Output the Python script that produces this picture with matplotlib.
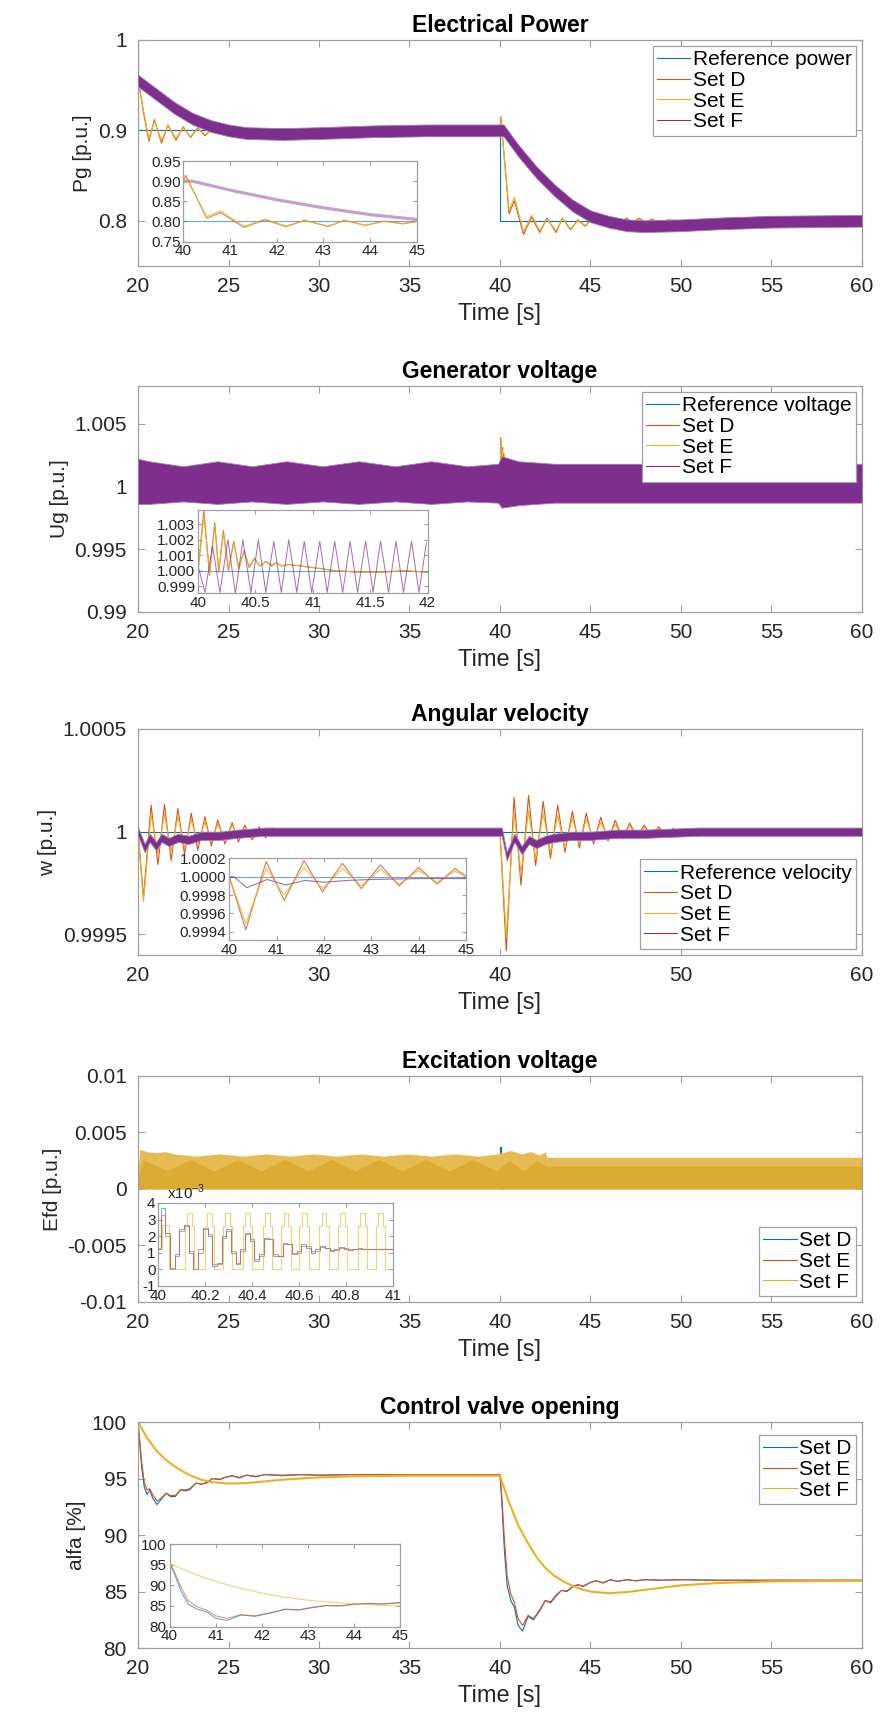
import numpy as np
import matplotlib
matplotlib.use('Agg')
import matplotlib.pyplot as plt
from matplotlib.lines import Line2D
from matplotlib.ticker import FormatStrFormatter, FuncFormatter

plt.rcParams['font.family'] = ['Liberation Sans', 'DejaVu Sans']
plt.rcParams['axes.unicode_minus'] = False
plt.rcParams['mathtext.fontset'] = 'custom'
plt.rcParams['mathtext.rm'] = 'Liberation Sans'

# ---------------- Electrical power ----------------
pg_ref_t = [20, 20, 40, 40, 60]
pg_ref = [1.0, 0.9, 0.9, 0.8, 0.8]

pg_t = [20, 20.3, 20.6, 20.9, 21.3, 21.65, 22.1, 22.5, 22.9, 23.3, 23.7, 24.1, 24.6, 25.4, 26,
        40, 40.05, 40.5, 40.8, 41.3, 41.75, 42.2, 42.6, 43.1, 43.45, 43.9, 44.3, 44.7, 45.1,
        45.6, 46.0, 46.5, 47.0, 47.3, 47.7, 48.05, 48.4, 48.8, 49.3, 50, 60]
pg_d = [0.958, 0.92, 0.888, 0.912, 0.886, 0.906, 0.889, 0.904, 0.892, 0.903, 0.894, 0.902, 0.897, 0.901, 0.9,
        0.9, 0.915, 0.808, 0.822, 0.785, 0.804, 0.787, 0.803, 0.787, 0.803, 0.79, 0.801, 0.794, 0.802,
        0.797, 0.802, 0.797, 0.803, 0.798, 0.803, 0.798, 0.802, 0.798, 0.801, 0.8, 0.8]
pg_e = [0.955, 0.922, 0.891, 0.91, 0.889, 0.905, 0.891, 0.903, 0.893, 0.902, 0.895, 0.901, 0.898, 0.9, 0.9,
        0.9, 0.912, 0.812, 0.826, 0.788, 0.806, 0.789, 0.802, 0.789, 0.802, 0.791, 0.8, 0.795, 0.801,
        0.797, 0.801, 0.798, 0.802, 0.798, 0.802, 0.798, 0.801, 0.799, 0.8, 0.8, 0.8]
# set F oscillates fast: centre line and ripple amplitude
pg_f_t = [20, 21, 22, 23, 24, 25, 26, 28, 30, 33, 36, 40, 40.2, 41, 42, 43, 44, 45, 46, 47, 48, 50, 52, 55, 60]
pg_f = [0.955, 0.94, 0.925, 0.913, 0.905, 0.9, 0.897, 0.896, 0.897, 0.899, 0.9, 0.9, 0.9, 0.878, 0.854,
        0.834, 0.817, 0.805, 0.799, 0.795, 0.794, 0.795, 0.797, 0.799, 0.8]
pg_f_amp = 0.0065

# ---------------- Generator voltage ----------------
ug_t = [20, 20.05, 20.15, 20.3, 40, 40.05, 40.1, 40.145, 40.18, 40.22, 40.265, 40.31, 40.355, 40.4, 40.445,
        40.49, 40.54, 40.59, 40.64, 40.68, 40.73, 40.78, 40.9, 41.0, 41.2, 41.4, 41.6, 41.8, 42.0, 60]
ug_d = [1.002, 0.9995, 1.0005, 1.0, 1.0, 1.0039, 0.9997, 1.0031, 0.9999, 1.0026, 1.0, 1.0019, 1.0001, 1.0013, 1.0002,
        1.0008, 1.0003, 1.0006, 1.0003, 1.0005, 1.0003, 1.0004, 1.0003, 1.0002, 1.0, 0.9999, 0.9999, 1.0, 0.9999, 1.0]
ug_e = [1.0018, 0.9996, 1.0004, 1.0, 1.0, 1.0035, 0.9998, 1.0029, 1.0, 1.0024, 1.0001, 1.0018, 1.0002, 1.0012, 1.0003,
        1.0008, 1.0003, 1.0006, 1.0004, 1.0005, 1.0003, 1.0004, 1.0003, 1.0002, 1.0, 0.9999, 0.9999, 1.0, 0.9999, 1.0]
# set F envelope over the whole run
ug_f_t = [20, 20.6, 22.5, 24.4, 26.3, 28.2, 30.2, 32.2, 34.2, 36.2, 38.2, 39.9, 40.1, 41, 42, 43, 45, 50, 55, 60]
ug_f_hi = [1.0022, 1.0020, 1.0016, 1.0020, 1.0016, 1.0020, 1.0016, 1.0020, 1.0016, 1.0020, 1.0016, 1.0018,
           1.0024, 1.0020, 1.0019, 1.0018, 1.0018, 1.0018, 1.0018, 1.0018]
ug_f_lo = [0.9986, 0.9986, 0.9988, 0.9986, 0.9988, 0.9986, 0.9988, 0.9986, 0.9988, 0.9986, 0.9988, 0.9987,
           0.9983, 0.9985, 0.9986, 0.9987, 0.9987, 0.9987, 0.9987, 0.9987]
# set F peaks and troughs between 40 and 42 s
ug_f_zoom_t = [40.0, 40.06, 40.125, 40.19, 40.26, 40.325, 40.39, 40.46, 40.525, 40.59, 40.66, 40.725, 40.79,
               40.86, 40.925, 40.99, 41.06, 41.125, 41.19, 41.26, 41.325, 41.39, 41.46, 41.525, 41.59, 41.66,
               41.725, 41.79, 41.86, 41.925, 41.99]
ug_f_zoom = [1.0003, 0.9986, 1.0016, 0.9986, 1.0020, 0.9985, 1.0020, 0.9986, 1.0020, 0.9986, 1.0019, 0.9986,
             1.0020, 0.9986, 1.0019, 0.9986, 1.0019, 0.9986, 1.0019, 0.9986, 1.0019, 0.9986, 1.0019, 0.9986,
             1.0019, 0.9986, 1.0019, 0.9986, 1.0019, 0.9986, 1.0018]

# ---------------- Angular velocity ----------------
w_t = [20.0, 20.3, 20.72, 21.1, 21.46, 21.83, 22.2, 22.57, 22.94, 23.3, 23.7, 24.05, 24.4, 24.8, 25.2, 25.55,
       25.9, 26.3, 26.7, 27.05, 27.4, 27.8, 28.1, 28.5, 28.9, 29.3, 29.7, 30.5, 40.0,
       40.35, 40.78, 41.16, 41.58, 41.97, 42.39, 42.79, 43.19, 43.59, 44.0, 44.39, 44.77, 45.17, 45.57, 45.97,
       46.37, 46.77, 47.17, 47.57, 47.97, 48.37, 48.77, 49.17, 49.57, 49.97, 50.37, 51.0, 60]
w_d = [1.0, 0.99968, 1.00013, 0.99984, 1.000133, 0.99986, 1.000114, 0.99989, 1.00009, 0.99991, 1.000073, 0.99993,
       1.000057, 0.99994, 1.000044, 0.99995, 1.000032, 0.99996, 1.000024, 0.99997, 1.000018, 0.99998, 1.000012,
       0.99999, 1.000008, 0.999993, 1.000005, 1.0, 1.0,
       0.99942, 1.000167, 0.99974, 1.000176, 0.999835, 1.000147, 0.99987, 1.00013, 0.9999, 1.0001, 0.99992,
       1.00009, 0.99994, 1.00007, 0.999955, 1.000055, 0.999965, 1.000042, 0.999973, 1.000032, 0.99998, 1.000024,
       0.999986, 1.000016, 0.99999, 1.00001, 1.0, 1.0]
w_e = [1.0, 0.99966, 1.000085, 0.99989, 1.000087, 0.9999, 1.000075, 0.99992, 1.00006, 0.99994, 1.000048, 0.99995,
       1.000037, 0.99996, 1.000029, 0.99997, 1.000021, 0.99997, 1.000016, 0.99998, 1.000012, 0.99999, 1.000008,
       0.99999, 1.000005, 0.999995, 1.000003, 1.0, 1.0,
       0.99949, 1.00009, 0.9998, 1.0001, 0.99987, 1.00009, 0.9999, 1.00008, 0.99992, 1.000068, 0.99994, 1.00006,
       0.99996, 1.000045, 0.99997, 1.000035, 0.999977, 1.000027, 0.999982, 1.00002, 0.999987, 1.000015, 0.99999,
       1.00001, 0.999994, 1.000006, 1.0, 1.0]
w_f_t = [20, 20.37, 20.64, 21.0, 21.3, 21.7, 22.2, 22.8, 23.5, 24.5, 25.5, 27, 40, 40.1, 40.37, 40.8, 41.2, 41.6,
         42.0, 42.5, 43.0, 44.0, 45.0, 46.5, 48, 51, 60]
w_f = [1.0, 0.99992, 0.99997, 0.99993, 0.99997, 0.99995, 0.99997, 0.99996, 0.99998, 0.99998, 0.99999, 1.0, 1.0,
       1.0, 0.99988, 0.99997, 0.99991, 0.99996, 0.99994, 0.99996, 0.99997, 0.99998, 0.99998, 0.99999, 0.99999,
       1.0, 1.0]
w_f_amp = 0.00002

# ---------------- Excitation voltage (values x1e-3) ----------------
efd_t = [20, 40.0, 40.01, 40.03, 40.05, 40.07, 40.09, 40.11, 40.13, 40.15, 40.17, 40.19, 40.21, 40.23, 40.25,
         40.27, 40.29, 40.31, 40.33, 40.35, 40.37, 40.39, 40.41, 40.43, 40.45, 40.47, 40.49, 40.51, 40.53,
         40.55, 40.57, 40.59, 40.61, 40.63, 40.65, 40.67, 40.69, 40.71, 40.73, 40.75, 40.77, 40.79, 40.81,
         40.83, 40.85, 40.87, 40.89, 40.91, 40.93, 40.95, 40.97, 40.99, 41.0, 60]
efd_d = [1.2, 1.2, 3.7, 2.2, 0.0, 0.9, 2.4, 2.7, 1.0, 0.0, 1.2, 2.5, 2.0, 0.2, 0.4, 2.0, 2.4, 1.0, 0.3, 1.2,
         2.2, 1.7, 0.5, 0.9, 1.9, 1.8, 0.8, 0.8, 1.6, 1.5, 0.9, 1.1, 1.5, 1.3, 1.0, 1.2, 1.4, 1.3, 1.1, 1.2,
         1.35, 1.25, 1.15, 1.2, 1.3, 1.25, 1.2, 1.2, 1.25, 1.25, 1.2, 1.2, 1.2, 1.2]
efd_e = [1.2, 1.2, 3.3, 2.0, 0.1, 0.8, 2.3, 2.6, 1.1, 0.0, 1.0, 2.4, 2.1, 0.3, 0.3, 1.9, 2.3, 1.1, 0.4, 1.1,
         2.1, 1.8, 0.6, 0.8, 1.8, 1.8, 0.9, 0.8, 1.5, 1.5, 1.0, 1.0, 1.4, 1.4, 1.1, 1.1, 1.35, 1.3, 1.15, 1.15,
         1.3, 1.3, 1.2, 1.2, 1.25, 1.25, 1.2, 1.2, 1.2, 1.25, 1.2, 1.2, 1.2, 1.2]
efd_f_t = [40.0, 40.015, 40.045,
           40.113, 40.123, 40.143, 40.153,
           40.198, 40.208, 40.228, 40.238,
           40.276, 40.286, 40.306, 40.316,
           40.361, 40.371, 40.391, 40.401,
           40.446, 40.456, 40.476, 40.486,
           40.524, 40.534, 40.554, 40.564,
           40.602, 40.612, 40.632, 40.642,
           40.687, 40.697, 40.717, 40.727,
           40.765, 40.775, 40.795, 40.805,
           40.85, 40.86, 40.88, 40.89,
           40.928, 40.938, 40.958, 40.968, 41.0]
efd_f = [1.3, 2.7, 0.0,
         2.6, 3.4, 2.6, 0.0,
         2.6, 3.4, 2.6, 0.0,
         2.6, 3.4, 2.6, 0.0,
         2.6, 3.4, 2.6, 0.0,
         2.6, 3.4, 2.6, 0.0,
         2.6, 3.4, 2.6, 0.0,
         2.6, 3.4, 2.6, 0.0,
         2.6, 3.4, 2.6, 0.0,
         2.6, 3.4, 2.6, 0.0,
         2.6, 3.4, 2.6, 0.0,
         2.6, 3.4, 2.6, 0.0, 0.0]
# set F band on the full time axis (p.u.)
efd_hi_t = [20, 20.1, 20.5, 21, 21.5, 22, 23.2, 24.5, 25.8, 27.1, 28.4, 29.7, 31, 32.3, 33.6, 34.9, 36.2,
            37.5, 38.8, 39.9, 40.6, 41.2, 41.7, 42.2, 42.5, 42.6, 60]
efd_hi = [0.0015, 0.0035, 0.0033, 0.0032, 0.0033, 0.0031, 0.0029, 0.0031, 0.0029, 0.0031, 0.0029, 0.0031,
          0.0029, 0.0031, 0.0029, 0.0031, 0.0029, 0.0031, 0.0029, 0.0031, 0.0034, 0.0031, 0.0033, 0.003,
          0.0033, 0.0028, 0.0028]
efd_mid_t = [20, 20.3, 21.6, 22.9, 24.2, 25.5, 26.8, 28.1, 29.4, 30.7, 32.0, 33.3, 34.6, 35.9, 37.2, 38.5,
             39.8, 40.5, 41.3, 42.0, 42.6, 60]
efd_mid = [0.0012, 0.0026, 0.0016, 0.0026, 0.0016, 0.0026, 0.0016, 0.0026, 0.0016, 0.0026, 0.0016, 0.0026,
           0.0016, 0.0026, 0.0016, 0.0026, 0.0016, 0.0025, 0.0016, 0.0025, 0.002, 0.002]

# ---------------- Control valve opening ----------------
alfa_t = [20, 20.1, 20.2, 20.35, 20.5, 20.65, 20.8, 21.05, 21.3, 21.55, 21.8, 22.05, 22.35, 22.6, 22.85, 23.2,
          23.5, 23.8, 24.1, 24.5, 24.8, 25.2, 25.6, 26.0, 26.5, 27, 28, 29, 30, 32, 40, 40.1, 40.25, 40.4,
          40.6, 40.8, 41.0, 41.25, 41.55, 41.85, 42.2, 42.5, 42.8, 43.1, 43.4, 43.7, 44.0, 44.3, 44.6, 45.0,
          45.3, 45.7, 46.1, 46.5, 47.0, 47.5, 48.0, 49, 50, 52, 60]
alfa_d = [100, 98.0, 96.0, 94.2, 93.6, 94.0, 93.3, 92.7, 93.2, 93.7, 93.4, 93.4, 94.0, 93.9, 94.0, 94.6,
          94.5, 94.6, 95.0, 94.9, 95.1, 95.25, 95.05, 95.3, 95.15, 95.35, 95.25, 95.35, 95.3, 95.35, 95.35,
          93.0, 88.5, 85.5, 84.2, 83.6, 82.0, 81.5, 82.8, 82.5, 83.3, 84.2, 84.0, 84.6, 85.1, 85.0, 85.4,
          85.6, 85.45, 85.8, 85.95, 85.75, 86.05, 85.9, 86.05, 85.95, 86.05, 86.0, 86.05, 86.0, 86.0]
alfa_e = [100, 98.3, 96.5, 94.6, 94.0, 94.1, 93.6, 93.0, 93.3, 93.7, 93.5, 93.5, 94.0, 94.0, 94.1, 94.6,
          94.5, 94.65, 95.0, 94.95, 95.1, 95.25, 95.1, 95.3, 95.2, 95.35, 95.3, 95.35, 95.3, 95.35, 95.35,
          93.5, 89.5, 86.3, 84.8, 84.0, 82.6, 82.0, 82.9, 82.6, 83.4, 84.2, 84.1, 84.7, 85.1, 85.05, 85.45,
          85.6, 85.5, 85.8, 85.95, 85.8, 86.05, 85.9, 86.05, 85.95, 86.05, 86.0, 86.05, 86.0, 86.0]
alfa_f_t = [20, 20.5, 21, 21.5, 22, 22.5, 23, 23.5, 24, 25, 26, 27, 28, 30, 32, 35, 40, 40.5, 41, 41.5, 42,
            42.5, 43, 43.5, 44, 44.5, 45, 46, 47, 48, 49, 50, 52, 55, 60]
alfa_f = [100, 98.6, 97.5, 96.7, 96.1, 95.6, 95.2, 94.9, 94.7, 94.55, 94.6, 94.75, 94.9, 95.1, 95.2, 95.25,
          95.25, 92.9, 90.9, 89.4, 88.1, 87.1, 86.4, 85.9, 85.5, 85.2, 85.0, 84.85, 84.95, 85.15, 85.35,
          85.55, 85.75, 85.9, 85.95]

blue = '#0072BD'
red = '#D95319'
yellow = '#EDB120'
purple = '#7E2F8E'
grey = '#a0a0a0'
txt = '#262626'


def style(ax, size, pad):
    for s in ax.spines.values():
        s.set_color(grey)
        s.set_linewidth(0.9)
    ax.tick_params(direction='in', top=True, right=True, length=5, width=0.8, color=grey,
                   labelsize=size, labelcolor=txt, pad=pad)


def legend(ax, handles, labels, loc, anchor=None):
    kw = dict(loc=loc, fontsize=15, fancybox=False, framealpha=1, edgecolor=grey, borderpad=0.2,
              labelspacing=0.08, handlelength=1.6, handletextpad=0.12, borderaxespad=0.3)
    if anchor is not None:
        kw['bbox_to_anchor'] = anchor
    lg = ax.legend(handles, labels, **kw)
    lg.get_frame().set_linewidth(0.9)
    lg.set_zorder(10)
    return lg


fig = plt.figure(figsize=(8.86, 17.16), dpi=100)
L, W, H = 0.1558, 0.817, 0.1317
bottoms = [0.845, 0.6434, 0.4435, 0.2413, 0.0396]
axs = [fig.add_axes([L, b, W, H]) for b in bottoms]
titles = ['Electrical Power', 'Generator voltage', 'Angular velocity', 'Excitation voltage',
          'Control valve opening']
ylabels = ['Pg [p.u.]', 'Ug [p.u.]', 'w [p.u.]', 'Efd [p.u.]', 'alfa [%]']
for i, ax in enumerate(axs):
    style(ax, 15, 8)
    ax.set_xlim(20, 60)
    ax.set_xticks(np.arange(20, 61, 10 if i == 2 else 5))
    ax.set_xlabel('Time [s]', fontsize=17, color=txt, labelpad=5)
    ax.set_ylabel(ylabels[i], fontsize=15, color=txt, labelpad=4)
    ax.set_title(titles[i], fontsize=16.5, fontweight='bold', pad=6)
    ax.yaxis.set_major_formatter(FuncFormatter(lambda v, p: '%g' % round(v, 6)))

lw = 0.8

# --- 1
ax = axs[0]
c = np.array(pg_f)
l0, = ax.plot(pg_ref_t, pg_ref, color=blue, lw=lw, zorder=2)
l1, = ax.plot(pg_t, pg_d, color=red, lw=lw, zorder=2)
l2, = ax.plot(pg_t, pg_e, color=yellow, lw=lw, zorder=2)
ax.fill_between(pg_f_t, c - pg_f_amp, c + pg_f_amp, color=purple, lw=0.6, ec='#a27bb3', zorder=3)
ax.set_ylim(0.75, 1.0)
ax.set_yticks([0.8, 0.9, 1.0])
legend(ax, [l0, l1, l2, Line2D([], [], color=purple, lw=lw)],
       ['Reference power', 'Set D', 'Set E', 'Set F'], 'upper right')
ins = ax.inset_axes([0.0625, 0.108, 0.3225, 0.356])
ins.set_zorder(5)
style(ins, 11, 2)
ins.plot(pg_ref_t, pg_ref, color=blue, lw=0.8, alpha=0.6)
ins.plot(pg_t, pg_d, color=red, lw=0.8, alpha=0.7)
ins.plot(pg_t, pg_e, color=yellow, lw=0.8, alpha=0.8)
ins.fill_between(pg_f_t, c - 0.004, c + 0.004, color=purple, alpha=0.45, lw=0)
ins.set_xlim(40, 45)
ins.set_ylim(0.75, 0.95)
ins.set_yticks([0.75, 0.8, 0.85, 0.9, 0.95])
ins.yaxis.set_major_formatter(FormatStrFormatter('%.2f'))
ins.tick_params(length=3)

# --- 2
ax = axs[1]
l0, = ax.plot([20, 60], [1.0, 1.0], color=blue, lw=lw, zorder=2)
l1, = ax.plot(ug_t, ug_d, color=red, lw=lw, zorder=2)
l2, = ax.plot(ug_t, ug_e, color=yellow, lw=lw, zorder=2)
ax.fill_between(ug_f_t, ug_f_lo, ug_f_hi, color=purple, lw=0.6, ec='#a27bb3', zorder=3)
ax.set_ylim(0.99, 1.008)
ax.set_yticks([0.99, 0.995, 1.0, 1.005])
legend(ax, [l0, l1, l2, Line2D([], [], color=purple, lw=lw)],
       ['Reference voltage', 'Set D', 'Set E', 'Set F'], 'upper right')
ins = ax.inset_axes([0.083, 0.083, 0.317, 0.367])
ins.set_zorder(5)
style(ins, 11, 2)
ins.plot([20, 60], [1.0, 1.0], color=blue, lw=0.8, alpha=0.6)
ins.plot(ug_t, ug_d, color=red, lw=0.8, alpha=0.8)
ins.plot(ug_t, ug_e, color=yellow, lw=0.8, alpha=0.8)
ins.plot(ug_f_zoom_t, ug_f_zoom, color=purple, lw=0.7, alpha=0.7)
ins.set_xlim(40, 42)
ins.set_ylim(0.99855, 1.0039)
ins.set_xticks([40, 40.5, 41, 41.5, 42])
ins.set_yticks([0.999, 1.0, 1.001, 1.002, 1.003])
ins.xaxis.set_major_formatter(FuncFormatter(lambda v, p: '%g' % v))
ins.yaxis.set_major_formatter(FormatStrFormatter('%.3f'))
ins.tick_params(length=3)

# --- 3
ax = axs[2]
c = np.array(w_f)
l0, = ax.plot([20, 60], [1.0, 1.0], color=blue, lw=lw, zorder=2)
l1, = ax.plot(w_t, w_d, color=red, lw=lw, zorder=2)
l2, = ax.plot(w_t, w_e, color=yellow, lw=lw, zorder=2)
ax.fill_between(w_f_t, c - w_f_amp, c + w_f_amp, color=purple, lw=0.6, ec='#a27bb3', zorder=3)
ax.set_ylim(0.9994, 1.0005)
ax.set_yticks([0.9995, 1.0, 1.0005])
legend(ax, [l0, l1, l2, Line2D([], [], color=purple, lw=lw)],
       ['Reference velocity', 'Set D', 'Set E', 'Set F'], 'lower right')
ins = ax.inset_axes([0.126, 0.067, 0.327, 0.364])
ins.set_zorder(5)
style(ins, 11, 2)
ins.plot([20, 60], [1.0, 1.0], color=blue, lw=0.8, alpha=0.6)
ins.plot(w_t, w_d, color=red, lw=0.8, alpha=0.8)
ins.plot(w_t, w_e, color=yellow, lw=0.8, alpha=0.8)
ins.plot(w_f_t, w_f, color=purple, lw=0.8, alpha=0.7)
ins.set_xlim(40, 45)
ins.set_ylim(0.99931, 1.00021)
ins.set_yticks([0.9994, 0.9996, 0.9998, 1.0, 1.0002])
ins.yaxis.set_major_formatter(FormatStrFormatter('%.4f'))
ins.tick_params(length=3)

# --- 4
ax = axs[3]
l1, = ax.plot(efd_t, np.array(efd_d) * 1e-3, color=blue, lw=lw, drawstyle='steps-post', zorder=1)
l2, = ax.plot(efd_t, np.array(efd_e) * 1e-3, color=red, lw=lw, drawstyle='steps-post', zorder=1)
ax.fill_between(efd_hi_t, 0, efd_hi, color='#E6BC52', lw=0, zorder=2)
ax.fill_between(efd_mid_t, 0, efd_mid, color='#DCAB32', lw=0, zorder=2)
ax.set_ylim(-0.01, 0.01)
ax.set_yticks([-0.01, -0.005, 0, 0.005, 0.01])
legend(ax, [Line2D([], [], color=blue, lw=lw), Line2D([], [], color=red, lw=lw),
            Line2D([], [], color=yellow, lw=lw)], ['Set D', 'Set E', 'Set F'], 'lower right')
ins = ax.inset_axes([0.028, 0.071, 0.324, 0.367])
ins.set_zorder(5)
style(ins, 11, 2)
ins.plot(efd_t, efd_d, color=blue, lw=0.8, alpha=0.55, drawstyle='steps-post')
ins.plot(efd_t, efd_e, color=red, lw=0.8, alpha=0.55, drawstyle='steps-post')
ins.plot(efd_f_t, efd_f, color=yellow, lw=0.8, alpha=0.6, drawstyle='steps-post')
ins.set_xlim(40, 41)
ins.set_ylim(-1, 4)
ins.set_xticks([40, 40.2, 40.4, 40.6, 40.8, 41])
ins.set_yticks([-1, 0, 1, 2, 3, 4])
ins.xaxis.set_major_formatter(FuncFormatter(lambda v, p: '%g' % round(v, 3)))
ins.tick_params(length=3)
ins.text(0.035, 1.01, r'x10$^{-3}$', transform=ins.transAxes, fontsize=11, color=txt, va='bottom', ha='left')

# --- 5
ax = axs[4]
l1, = ax.plot(alfa_t, alfa_d, color=blue, lw=lw)
l2, = ax.plot(alfa_t, alfa_e, color=red, lw=lw)
l3, = ax.plot(alfa_f_t, alfa_f, color=yellow, lw=1.5)
ax.set_ylim(80, 100)
ax.set_yticks([80, 85, 90, 95, 100])
legend(ax, [l1, l2, Line2D([], [], color=yellow, lw=lw)], ['Set D', 'Set E', 'Set F'], 'upper right',
       anchor=(1.0, 0.97))
ins = ax.inset_axes([0.0435, 0.095, 0.319, 0.365])
ins.set_zorder(5)
style(ins, 11, 2)
ins.plot(alfa_t, alfa_d, color=blue, lw=0.8, alpha=0.6)
ins.plot(alfa_t, alfa_e, color=red, lw=0.8, alpha=0.6)
ins.plot(alfa_f_t, alfa_f, color=yellow, lw=0.8, alpha=0.6)
ins.set_xlim(40, 45)
ins.set_ylim(80, 100)
ins.set_yticks([80, 85, 90, 95, 100])
ins.tick_params(length=3)

fig.savefig('out.png', dpi=100)
